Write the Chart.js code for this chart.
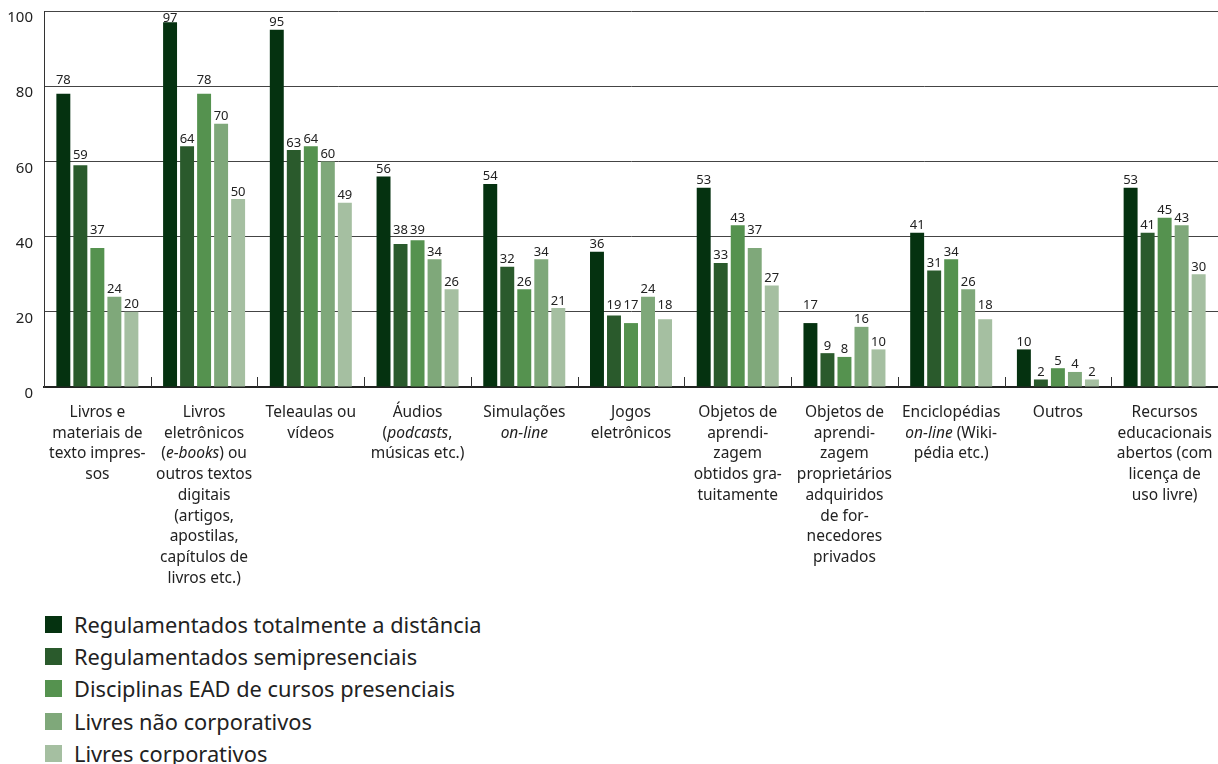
<!DOCTYPE html>
<html>
<head>
<meta charset="utf-8">
<script src="https://cdn.jsdelivr.net/npm/chart.js@4"></script>
<style>
  body { margin: 0; background: #fff; font-family: "Noto Sans", sans-serif; }
  #wrap { position: relative; width: 1218px; height: 600px; }
  #legend { margin: 8px 0 0 45px; padding: 0; list-style: none; }
  #legend li { display: flex; align-items: center; height: 32.3px; font-size: 21.8px; color: #222; }
  #legend span.box { width: 17px; height: 17px; margin-right: 12px; display: inline-block; }
</style>
</head>
<body>
<div id="wrap"><canvas id="chart"></canvas></div>
<ul id="legend"></ul>
<script>
// category labels, one entry per line; *text* is italic
const categories = [
    ["Livros e", "materiais de", "texto impres-", "sos"],
    ["Livros", "eletrônicos", "(*e-books*) ou", "outros textos", "digitais", "(artigos,", "apostilas,", "capítulos de", "livros etc.)"],
    ["Teleaulas ou", "vídeos"],
    ["Áudios", "(*podcasts*,", "músicas etc.)"],
    ["Simulações", "*on-line*"],
    ["Jogos", "eletrônicos"],
    ["Objetos de", "aprendi-", "zagem", "obtidos gra-", "tuitamente"],
    ["Objetos de", "aprendi-", "zagem", "proprietários", "adquiridos", "de for-", "necedores", "privados"],
    ["Enciclopédias", "*on-line* (Wiki-", "pédia etc.)"],
    ["Outros"],
    ["Recursos", "educacionais", "abertos (com", "licença de", "uso livre)"]
];

const seriesNames = [
    "Regulamentados totalmente a distância",
    "Regulamentados semipresenciais",
    "Disciplinas EAD de cursos presenciais",
    "Livres não corporativos",
    "Livres corporativos"
];

const totalDistancia = [78, 97, 95, 56, 54, 36, 53, 17, 41, 10, 53];
const semipresenciais = [59, 64, 63, 38, 32, 19, 33, 9, 31, 2, 41];
const ead = [37, 78, 64, 39, 26, 17, 43, 8, 34, 5, 45];
const livresNaoCorp = [24, 70, 60, 34, 34, 24, 37, 16, 26, 4, 43];
const livresCorp = [20, 50, 49, 26, 21, 18, 27, 10, 18, 2, 30];

const yTicks = [0, 20, 40, 60, 80, 100];

const colors = ["#053210", "#2a5a2c", "#55924f", "#7fa87a", "#a5bfa1"];
const fontFamily = '"Noto Sans", sans-serif';
const catFont = "15.5px " + fontFamily;

const seriesValues = [totalDistancia, semipresenciais, ead, livresNaoCorp, livresCorp];

// value labels above bars, category labels with italics, inner ticks on x axis
const extrasPlugin = {
    id: "extras",
    afterDatasetsDraw(chart) {
        const ctx = chart.ctx;
        const y = chart.scales.y;
        const top = chart.chartArea.top;
        const gridYs = yTicks.slice(1).map((v) => y.getPixelForValue(v));
        const digitH = 9.3;
        ctx.save();
        ctx.font = "13px " + fontFamily;
        ctx.fillStyle = "#222";
        ctx.textAlign = "center";
        ctx.textBaseline = "alphabetic";
        chart.data.datasets.forEach((ds, di) => {
            const meta = chart.getDatasetMeta(di);
            meta.data.forEach((bar, i) => {
                let base = bar.y - 3.5;
                // keep labels off the grid lines: lift them above the line
                gridYs.forEach((g) => {
                    if (g >= base - digitH - 1 && g <= base + 1.5) {
                        base = g - 2.5;
                        if (base - digitH < top) base = g + 2 + digitH;
                    }
                });
                ctx.fillText(String(ds.data[i]), bar.x, base);
            });
        });
        ctx.restore();
    },
    afterDraw(chart) {
        const ctx = chart.ctx;
        const x = chart.scales.x;
        const area = chart.chartArea;
        ctx.save();

        // small ticks between categories, pointing up from the axis
        ctx.strokeStyle = "#333";
        ctx.lineWidth = 1;
        for (let i = 0; i < categories.length; i++) {
            const px = Math.round((x.getPixelForValue(i) + x.getPixelForValue(i + 1)) / 2) + 0.5;
            ctx.beginPath();
            ctx.moveTo(px, area.bottom);
            ctx.lineTo(px, area.bottom - 10);
            ctx.stroke();
        }

        // multi-line category labels
        ctx.fillStyle = "#222";
        ctx.textBaseline = "alphabetic";
        const lineH = 20.7;
        categories.forEach((lines, i) => {
            const cx = x.getPixelForValue(i);
            lines.forEach((line, li) => {
                const parts = line.split("*").map((t, k) => ({ text: t, italic: k % 2 === 1 }));
                let width = 0;
                parts.forEach((p) => {
                    ctx.font = (p.italic ? "italic " : "") + catFont;
                    p.w = ctx.measureText(p.text).width;
                    width += p.w;
                });
                let px = cx - width / 2;
                const py = area.bottom + 30 + li * lineH;
                ctx.textAlign = "left";
                parts.forEach((p) => {
                    ctx.font = (p.italic ? "italic " : "") + catFont;
                    ctx.fillText(p.text, px, py);
                    px += p.w;
                });
            });
        });
        ctx.restore();
    }
};

new Chart(document.getElementById("chart"), {
    type: "bar",
    data: {
        labels: categories.map((c) => c.join(" ").replace(/\*/g, "")),
        datasets: seriesNames.map((name, i) => ({
            label: name,
            data: seriesValues[i],
            backgroundColor: colors[i],
            categoryPercentage: 0.797,
            barPercentage: 0.82
        }))
    },
    options: {
        responsive: true,
        maintainAspectRatio: false,
        animation: false,
        layout: { padding: { top: 11, right: 0, left: 0, bottom: 0 } },
        plugins: {
            legend: { display: false },
            tooltip: { enabled: false }
        },
        scales: {
            x: {
                grid: { display: false, drawTicks: false },
                border: { display: true, color: "#222", width: 2 },
                ticks: { display: false },
                afterFit(scale) { scale.height = 213; }
            },
            y: {
                min: 0,
                max: 100,
                afterBuildTicks(scale) {
                    scale.ticks = yTicks.map((v) => ({ value: v }));
                },
                grid: { color: "#444", lineWidth: 1, drawTicks: false },
                border: { display: true, color: "#333", width: 1 },
                ticks: {
                    padding: 11,
                    labelOffset: 7,
                    color: "#222",
                    font: { family: fontFamily, size: 15 }
                },
                afterFit(scale) {
                    scale.width = 44;
                    scale.paddingTop = 0;
                    scale.paddingBottom = 0;
                }
            }
        }
    },
    plugins: [extrasPlugin]
});

// HTML legend, stacked vertically
const legend = document.getElementById("legend");
seriesNames.forEach((name, i) => {
    const li = document.createElement("li");
    li.innerHTML = '<span class="box" style="background:' + colors[i] + '"></span>' + name;
    legend.appendChild(li);
});
</script>
</body>
</html>
